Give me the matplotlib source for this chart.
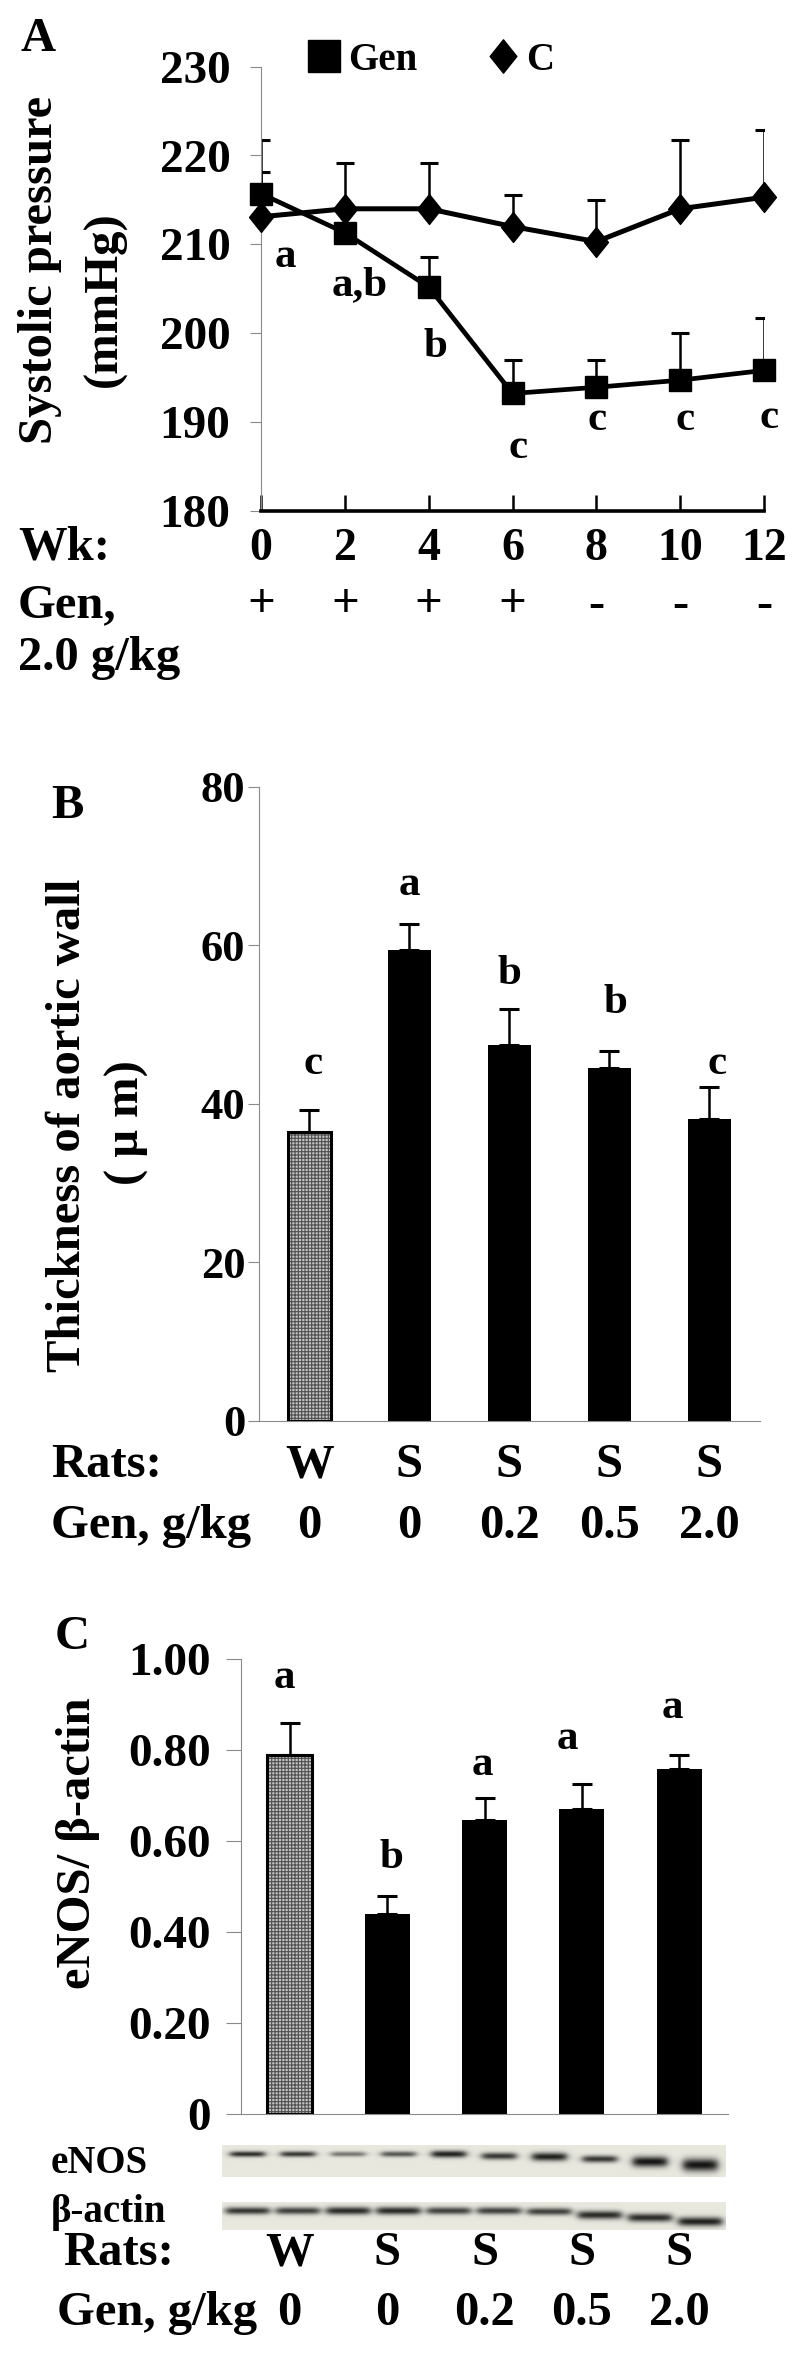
import numpy as np
import matplotlib
matplotlib.use('Agg')
import matplotlib.pyplot as plt
from matplotlib.lines import Line2D
from matplotlib.path import Path
import matplotlib.transforms as mtransforms

plt.rcParams['font.family'] = ['Liberation Serif', 'DejaVu Serif']
plt.rcParams['font.weight'] = 'bold'
plt.rcParams['hatch.linewidth'] = 0.8

# ------------------------------------------------------------------ data
weeks = [0, 2, 4, 6, 8, 10, 12]
gen_sbp = [215.7, 211.3, 205.2, 193.2, 193.9, 194.7, 195.8]
gen_sbp_err = [2.4, 2.5, 3.4, 3.8, 3.1, 5.3, 5.9]
ctrl_sbp = [213.1, 214.0, 214.0, 212.0, 210.3, 214.0, 215.3]
ctrl_sbp_err = [8.6, 5.1, 5.1, 3.5, 4.7, 7.7, 7.6]
gen_sbp_letters = ['a', 'a,b', 'b', 'c', 'c', 'c', 'c']
gen_feeding = ['+', '+', '+', '+', '-', '-', '-']
series_names = ['Gen', 'C']

rat_groups = ['W', 'S', 'S', 'S', 'S']
gen_doses = ['0', '0', '0.2', '0.5', '2.0']
wall_thickness = [36.4, 59.4, 47.4, 44.5, 38.1]
wall_thickness_err = [2.8, 3.3, 4.5, 2.1, 4.0]
wall_letters = ['c', 'a', 'b', 'b', 'c']

enos_ratio = [0.79, 0.44, 0.647, 0.67, 0.759]
enos_ratio_err = [0.07, 0.04, 0.048, 0.055, 0.031]
enos_letters = ['a', 'b', 'a', 'a', 'a']

# western blot relative band densities, 10 lanes (2 per group)
enos_band_density = [0.9, 0.85, 0.55, 0.7, 0.95, 0.85, 0.95, 0.85, 1.0, 1.0]
actin_band_density = [0.85, 0.8, 0.9, 0.9, 0.8, 0.8, 0.8, 0.9, 0.9, 0.95]

# ------------------------------------------------------------------ layout (pixels)
W, H = 800, 2357
fig = plt.figure(figsize=(W / 100, H / 100), dpi=100)


def rect(l, t, r, b):
    return [l / W, 1 - b / H, (r - l) / W, (b - t) / H]


def fy(p):
    return 1 - p / H


def ftext(xp, yp, s, **kw):
    kw.setdefault('va', 'baseline')
    fig.text(xp / W, fy(yp), s, **kw)


def vlabel(xc, yc, s, size=35):
    fig.text(xc / W, fy(yc), s, rotation=90, ha='center', va='center', fontsize=size)


PT = 0.72  # px -> points at 100 dpi
GRAY = '#8a8a8a'

# ================================================================== panel A
axA = fig.add_axes(rect(261, 66.7, 764, 510.7))
axA.set_xlim(0, 12)
axA.set_ylim(180, 230)
for s in ['top', 'right']:
    axA.spines[s].set_visible(False)
axA.spines['left'].set_color(GRAY)
axA.spines['left'].set_linewidth(0.8)
axA.spines['bottom'].set_color('k')
axA.spines['bottom'].set_linewidth(2.6)
axA.set_yticks(range(180, 231, 10))
axA.tick_params(axis='y', direction='out', length=8, width=0.8, color=GRAY,
                labelsize=34, pad=14)
axA.set_xticks(weeks)
axA.tick_params(axis='x', direction='in', length=11.5, width=1.8, color='k',
                labelbottom=False)

zeros7 = [0] * len(weeks)
axA.errorbar(weeks, ctrl_sbp, yerr=[zeros7, ctrl_sbp_err], fmt='none', ecolor='k',
             elinewidth=1.8, capsize=6.5, capthick=2.2, zorder=2)
axA.errorbar(weeks, gen_sbp, yerr=[zeros7, gen_sbp_err], fmt='none', ecolor='k',
             elinewidth=1.8, capsize=6.5, capthick=2.2, zorder=2)
diamond = Path([(0, 1), (0.8, 0), (0, -1), (-0.8, 0), (0, 1)],
               [Path.MOVETO, Path.LINETO, Path.LINETO, Path.LINETO, Path.CLOSEPOLY])
axA.plot(weeks, ctrl_sbp, color='k', lw=3.6, marker=diamond, ms=21.5, zorder=3,
         clip_on=False)
axA.plot(weeks, gen_sbp, color='k', lw=3.4, marker='s', ms=15.5, zorder=4,
         clip_on=False)

handles = [Line2D([], [], color='k', ls='none', marker='s', ms=23),
           Line2D([], [], color='k', ls='none', marker=diamond, ms=24)]
axA.legend(handles, series_names, ncol=2, loc='center left',
           bbox_to_anchor=(305 / W, fy(60)), bbox_transform=fig.transFigure,
           frameon=False, fontsize=28, handlelength=1.0, handletextpad=0.1,
           columnspacing=1.7, borderpad=0, borderaxespad=0)

a_letter_dx = [24, 15, 7, 6, 1, 5, 5]
a_letter_dy = [73, 62, 70, 64.5, 43, 50, 57.6]
for w, v, t, dx, dy in zip(weeks, gen_sbp, gen_sbp_letters, a_letter_dx, a_letter_dy):
    axA.annotate(t, xy=(w, v), xytext=(dx * PT, -dy * PT), textcoords='offset points',
                 ha='center', va='baseline', fontsize=31)

transA = mtransforms.blended_transform_factory(axA.transData, fig.transFigure)
for w in weeks:
    axA.text(w, fy(560), str(w), transform=transA, ha='center', va='baseline',
             fontsize=33)
for w, f in zip(weeks, gen_feeding):
    axA.text(w, fy(617), f, transform=transA, ha='center', va='baseline',
             fontsize=35)

ftext(18, 560, 'Wk:', fontsize=35)
ftext(18, 617, 'Gen,', fontsize=35)
ftext(18, 670, '2.0 g/kg', fontsize=35)
ftext(38, 50.7, 'A', fontsize=35, ha='center')
vlabel(40, 270, 'Systolic pressure')
vlabel(105, 299, '(mmHg)')

# ================================================================== panel B
axB = fig.add_axes(rect(259.3, 786.7, 759.5, 1420.6))
xB = np.arange(len(wall_thickness))
axB.set_xlim(-0.5, 4.5)
axB.set_ylim(0, 80)
for s in ['top', 'right']:
    axB.spines[s].set_visible(False)
for s in ['left', 'bottom']:
    axB.spines[s].set_color(GRAY)
    axB.spines[s].set_linewidth(0.8)
axB.set_yticks([0, 20, 40, 60, 80])
axB.tick_params(axis='y', direction='out', length=8, width=0.8, color=GRAY,
                labelsize=32, pad=2)
axB.set_xticks([])

face = ['#c4c4c4'] + ['k'] * 4
hatch_edge = ['#505050'] + ['k'] * 4
barsB = axB.bar(xB, wall_thickness, width=0.43, color=face, edgecolor=hatch_edge,
                linewidth=0, zorder=2)
barsB[0].set_hatch('+++++')
axB.bar(xB[:1], wall_thickness[:1], width=0.43, fill=False, edgecolor='k',
        linewidth=2.2, zorder=3)
axB.errorbar(xB, wall_thickness, yerr=[[0] * 5, wall_thickness_err], fmt='none',
             ecolor='k', elinewidth=1.8, capsize=7, capthick=2.2, zorder=1)

b_letter_dx = [4, 0, 0, 6, 8]
b_letter_dy = [36, 29, 25, 38, 13]
for i, (v, e, t) in enumerate(zip(wall_thickness, wall_thickness_err, wall_letters)):
    axB.annotate(t, xy=(i, v + e), xytext=(b_letter_dx[i] * PT, b_letter_dy[i] * PT),
                 textcoords='offset points', ha='center', va='baseline', fontsize=31)

transB = mtransforms.blended_transform_factory(axB.transData, fig.transFigure)
for i, (g, d) in enumerate(zip(rat_groups, gen_doses)):
    axB.text(i, fy(1477), g, transform=transB, ha='center', va='baseline', fontsize=35)
    axB.text(i, fy(1537.5), d, transform=transB, ha='center', va='baseline', fontsize=35)

ftext(51, 1477, 'Rats:', fontsize=35)
ftext(51, 1537.5, 'Gen, g/kg', fontsize=35)
ftext(67, 818, 'B', fontsize=35, ha='center')
vlabel(68, 1125, 'Thickness of aortic wall')
vlabel(127, 1123, '( \u03bc m)')

# ================================================================== panel C
axC = fig.add_axes(rect(241, 1659, 728, 2114))
xC = np.arange(len(enos_ratio))
axC.set_xlim(-0.5, 4.5)
axC.set_ylim(0, 1.0)
for s in ['top', 'right']:
    axC.spines[s].set_visible(False)
for s in ['left', 'bottom']:
    axC.spines[s].set_color(GRAY)
    axC.spines[s].set_linewidth(0.8)
axC.set_yticks([0, 0.2, 0.4, 0.6, 0.8, 1.0])
axC.set_yticklabels(['0', '0.20', '0.40', '0.60', '0.80', '1.00'])
axC.tick_params(axis='y', direction='out', length=11, width=0.8, color=GRAY,
                labelsize=34, pad=11)
axC.set_xticks([])

barsC = axC.bar(xC, enos_ratio, width=0.46, color=face, edgecolor=hatch_edge,
                linewidth=0, zorder=2)
barsC[0].set_hatch('+++++')
axC.bar(xC[:1], enos_ratio[:1], width=0.46, fill=False, edgecolor='k',
        linewidth=2.2, zorder=3)
axC.errorbar(xC, enos_ratio, yerr=[[0] * 5, enos_ratio_err], fmt='none',
             ecolor='k', elinewidth=1.8, capsize=7, capthick=2.2, zorder=1)

c_letter_dx = [-5, 4, -2.5, -15, -7]
c_letter_dy = [35, 28, 23, 35, 37]
for i, (v, e, t) in enumerate(zip(enos_ratio, enos_ratio_err, enos_letters)):
    axC.annotate(t, xy=(i, v + e), xytext=(c_letter_dx[i] * PT, c_letter_dy[i] * PT),
                 textcoords='offset points', ha='center', va='baseline', fontsize=31)

transC = mtransforms.blended_transform_factory(axC.transData, fig.transFigure)
for i, (g, d) in enumerate(zip(rat_groups, gen_doses)):
    axC.text(i, fy(2265), g, transform=transC, ha='center', va='baseline', fontsize=35)
    axC.text(i, fy(2325), d, transform=transC, ha='center', va='baseline', fontsize=35)

ftext(63, 2265, 'Rats:', fontsize=35)
ftext(57, 2325, 'Gen, g/kg', fontsize=35)
ftext(72, 1648.7, 'C', fontsize=35, ha='center')
vlabel(78, 1843, 'eNOS/ \u03b2-actin')

# ------------------------------------------------------------------ western blots
enos_band_y = [9, 9, 9, 9, 9, 11, 11.7, 14, 16.7, 20]
enos_band_sigma = [2.0, 2.0, 1.8, 2.0, 2.5, 2.5, 3.0, 2.5, 3.8, 4.6]
actin_band_y = [8.7, 8.7, 8.7, 8.7, 8.7, 8.7, 9.5, 13, 15.7, 19.7]
actin_band_sigma = [2.6, 2.6, 2.8, 2.8, 2.6, 2.6, 2.6, 3.0, 3.0, 3.2]
BG = np.array([0.91, 0.91, 0.875])
DARK = np.array([0.08, 0.08, 0.08])


def blot_image(density, cy, sig, hw, height_px, nx=504):
    xs = np.linspace(0, 10, nx)[None, :]
    ys = np.linspace(0, height_px, int(height_px * 2))[:, None]
    d = np.zeros((ys.shape[0], nx))
    for i, (a, c, s) in enumerate(zip(density, cy, sig)):
        xp = 1.0 / (1.0 + np.exp((np.abs(xs - (i + 0.5)) - hw) / 0.045))
        yp = np.exp(-0.5 * ((ys - c) / s) ** 2)
        d += a * xp * yp
    d = np.clip(d, 0, 1)[..., None]
    return BG * (1 - d) + DARK * d


axE = fig.add_axes(rect(222, 2145, 726, 2177))
axE.imshow(blot_image(enos_band_density, enos_band_y, enos_band_sigma, 0.34, 32),
           extent=[0, 10, 32, 0], aspect='auto', interpolation='bilinear')
axE.axis('off')
axAc = fig.add_axes(rect(222, 2202, 726, 2230))
axAc.imshow(blot_image(actin_band_density, actin_band_y, actin_band_sigma, 0.43, 28),
            extent=[0, 10, 28, 0], aspect='auto', interpolation='bilinear')
axAc.axis('off')

ftext(51, 2173, 'eNOS', fontsize=28)
ftext(51, 2221.7, '\u03b2-actin', fontsize=28)

fig.savefig('out.png', dpi=100)
